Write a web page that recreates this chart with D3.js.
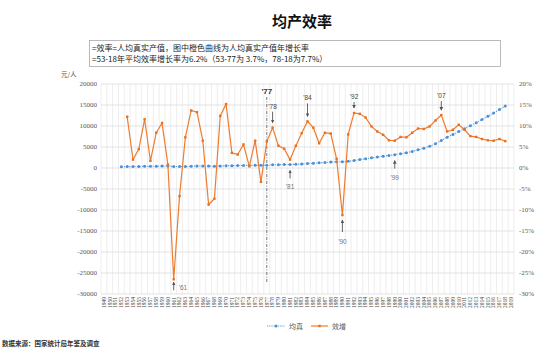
<!DOCTYPE html>
<html>
<head>
<meta charset="utf-8">
<script src="https://cdnjs.cloudflare.com/ajax/libs/d3/7.8.5/d3.min.js"></script>
<style>
body{margin:0;background:#fff;}
svg{display:block;}
</style>
</head>
<body>
<svg width="550" height="351"></svg>
<script>
// categories on the x axis
var years = [1949,1950,1951,1952,1953,1954,1955,1956,1957,1958,1959,1960,1961,1962,1963,1964,1965,1966,1967,1968,1969,
	1970,1971,1972,1973,1974,1975,1976,1977,1978,1979,1980,1981,1982,1983,1984,1985,1986,1987,1988,1989,
	1990,1991,1992,1993,1994,1995,1996,1997,1998,1999,2000,2001,2002,2003,2004,2005,2006,2007,2008,2009,
	2010,2011,2012,2013,2014,2015,2016,2017,2018,2019];

// 均真: per-capita real output (yuan/person), 1952-2018
var perCapitaStart = 1952;
var perCapita = [300,330,340,355,395,400,435,480,485,360,
	335,360,410,465,495,450,420,470,545,565,
	585,615,620,660,640,680,745,785,820,840,
	885,955,1060,1160,1230,1330,1440,1470,1480,1600,
	1790,2000,2210,2420,2620,2820,3000,3180,3400,3640,
	3950,4320,4720,5200,5800,6550,7300,8000,8700,9350,
	10050,10800,11540,12300,13100,13900,14750];

// 效增: yearly growth of efficiency (%), 1953-2018
var growthStart = 1953;
var growth = [12.2,2.0,4.5,11.6,1.7,8.4,10.7,0.8,-26.5,-6.7,
	7.3,13.7,13.3,6.5,-8.7,-7.3,12.4,15.2,3.6,3.2,
	5.6,0.4,6.5,-3.3,6.3,9.6,5.3,4.6,2.0,5.3,
	8.3,11.1,9.6,5.9,8.4,8.2,2.2,-11.2,8.0,13.1,
	12.9,12.0,9.9,8.7,7.9,6.6,6.5,7.4,7.3,8.4,
	9.4,9.3,9.9,11.3,12.6,8.7,9.1,10.3,9.1,7.6,
	7.4,6.9,6.6,6.5,6.9,6.4];

var leftTicks = [20000,15000,10000,5000,0,-5000,-10000,-15000,-20000,-25000,-30000];
var rightTicks = [20,15,10,5,0,-5,-10,-15,-20,-25,-30];

// year markers on the orange line (top) and blue line (bottom)
var topNotes = [{year:1978, text:"'78", len:11}, {year:1984, text:"'84", len:13}, {year:1992, text:"'92", len:6}, {year:2007, text:"'07", len:9}];
var bottomNotes = [{year:1981, text:"'81"}, {year:1999, text:"'99"}];
var dipNotes = [{year:1961, text:"'61"}, {year:1990, text:"'90"}];

var svg = d3.select('svg');
var cjk = '"Noto Sans CJK SC", sans-serif';
var serif = '"Liberation Serif", "DejaVu Serif", serif';
var sans = '"Liberation Sans", sans-serif';

var plotL = 101, plotR = 514, plotT = 84, plotB = 294;

var x = d3.scaleBand().domain(years).range([plotL, plotR]);
var cx = function(yr){ return x(yr) + x.bandwidth() / 2 };
var yL = d3.scaleLinear().domain([-30000, 20000]).range([plotB, plotT]);
var yR = d3.scaleLinear().domain([-30, 20]).range([plotB, plotT]);

var blueData = perCapita.map(function(v, i){ return {year: perCapitaStart + i, v: v} });
var orangeData = growth.map(function(v, i){ return {year: growthStart + i, v: v} });
var findBlue = function(yr){ return blueData.filter(function(d){ return d.year == yr })[0] };
var findOrange = function(yr){ return orangeData.filter(function(d){ return d.year == yr })[0] };

svg.append('rect').attr('width', 550).attr('height', 351).attr('fill', '#fff');

// title
svg.append('text')
	.attr('x', 302).attr('y', 27)
	.attr('text-anchor', 'middle')
	.style('font-family', cjk).style('font-weight', 'bold').style('font-size', '15px')
	.attr('fill', '#111')
	.text('均产效率');

// note box
svg.append('rect')
	.attr('x', 89.5).attr('y', 40.5).attr('width', 411).attr('height', 26)
	.attr('fill', '#fff').attr('stroke', '#aaa').attr('stroke-width', 0.8);
svg.append('text')
	.attr('x', 92).attr('y', 51)
	.style('font-family', cjk).style('font-size', '8px').attr('fill', '#222')
	.text('=效率=人均真实产值，图中橙色曲线为人均真实产值年增长率');
svg.append('text')
	.attr('x', 92).attr('y', 62)
	.style('font-family', cjk).style('font-size', '8px').attr('fill', '#222')
	.text('=53-18年平均效率增长率为6.2%（53-77为 3.7%，78-18为7.7%）');

svg.append('text')
	.attr('x', 61).attr('y', 77)
	.style('font-family', cjk).style('font-size', '6.5px').attr('fill', '#555')
	.text('元/人');

// gridlines
svg.append('g').selectAll('line')
	.data(years.concat(['end']))
	.enter()
	.append('line')
		.attr('x1', function(d){ return d == 'end' ? plotR : x(d) })
		.attr('x2', function(d){ return d == 'end' ? plotR : x(d) })
		.attr('y1', plotT).attr('y2', plotB)
		.attr('stroke', '#e6e6e6').attr('stroke-width', 0.7);

svg.append('g').selectAll('line')
	.data(leftTicks)
	.enter()
	.append('line')
		.attr('x1', plotL).attr('x2', plotR)
		.attr('y1', function(d){ return yL(d) })
		.attr('y2', function(d){ return yL(d) })
		.attr('stroke', '#dcdcdc').attr('stroke-width', 0.8);

// axis labels
svg.append('g').selectAll('text')
	.data(leftTicks)
	.enter()
	.append('text')
		.attr('x', 97).attr('y', function(d){ return yL(d) + 2.3 })
		.attr('text-anchor', 'end')
		.style('font-family', serif).style('font-size', '7px').attr('fill', '#595959')
		.text(function(d){ return d });

svg.append('g').selectAll('text')
	.data(rightTicks)
	.enter()
	.append('text')
		.attr('x', 519).attr('y', function(d){ return yR(d) + 2.3 })
		.style('font-family', serif).style('font-size', '7px').attr('fill', '#595959')
		.text(function(d){ return d + '%' });

svg.append('g').selectAll('text')
	.data(years)
	.enter()
	.append('text')
		.attr('transform', function(d){ return 'translate(' + (cx(d) + 1.8) + ',297) rotate(-90)' })
		.attr('text-anchor', 'end')
		.style('font-family', serif).style('font-size', '5.5px').attr('fill', '#444')
		.text(function(d){ return d });

// '77 divider
svg.append('line')
	.attr('x1', cx(1977)).attr('x2', cx(1977))
	.attr('y1', 97).attr('y2', 283)
	.attr('stroke', '#666').attr('stroke-width', 0.9)
	.attr('stroke-dasharray', '3,1.5,1,1.5');
svg.append('text')
	.attr('x', cx(1977)).attr('y', 94)
	.attr('text-anchor', 'middle')
	.style('font-family', sans).style('font-weight', 'bold').style('font-size', '8px')
	.attr('fill', '#333')
	.text("'77");

// blue series
var blueLine = d3.line()
	.x(function(d){ return cx(d.year) })
	.y(function(d){ return yL(d.v) });

svg.append('path')
	.datum(blueData)
	.attr('d', blueLine)
	.attr('fill', 'none').attr('stroke', '#5B9BD5').attr('stroke-width', 1.1)
	.attr('stroke-dasharray', '1.2,1.4');

svg.append('g').selectAll('circle')
	.data(blueData)
	.enter()
	.append('circle')
		.attr('cx', function(d){ return cx(d.year) })
		.attr('cy', function(d){ return yL(d.v) })
		.attr('r', 1.5)
		.attr('fill', '#4A90D9');

// orange series
var orangeLine = d3.line()
	.x(function(d){ return cx(d.year) })
	.y(function(d){ return yR(d.v) });

svg.append('path')
	.datum(orangeData)
	.attr('d', orangeLine)
	.attr('fill', 'none').attr('stroke', '#ED7D31').attr('stroke-width', 1.2);

svg.append('g').selectAll('rect')
	.data(orangeData)
	.enter()
	.append('rect')
		.attr('x', function(d){ return cx(d.year) - 1.2 })
		.attr('y', function(d){ return yR(d.v) - 1.2 })
		.attr('width', 2.4).attr('height', 2.4)
		.attr('fill', '#E8701F');

// arrows
svg.append('defs').append('marker')
	.attr('id', 'head')
	.attr('viewBox', '0 0 6 6')
	.attr('refX', 5).attr('refY', 3)
	.attr('markerWidth', 4).attr('markerHeight', 4)
	.attr('orient', 'auto')
	.append('path').attr('d', 'M0,0L6,3L0,6Z').attr('fill', '#555');

function arrow(x0, y0, y1){
	svg.append('line')
		.attr('x1', x0).attr('x2', x0)
		.attr('y1', y0).attr('y2', y1)
		.attr('stroke', '#555').attr('stroke-width', 0.9)
		.attr('marker-end', 'url(#head)');
}

topNotes.forEach(function(n){
	var tip = yR(findOrange(n.year).v) - 5;
	arrow(cx(n.year), tip - n.len, tip);
	svg.append('text')
		.attr('x', cx(n.year)).attr('y', tip - n.len - 3)
		.attr('text-anchor', 'middle')
		.style('font-family', sans).style('font-size', '6.5px')
		.attr('fill', '#444')
		.text(n.text);
});

bottomNotes.forEach(function(n){
	var tip = yL(findBlue(n.year).v) + 6;
	arrow(cx(n.year), tip + 8, tip);
	svg.append('text')
		.attr('x', cx(n.year)).attr('y', tip + 19)
		.attr('text-anchor', 'middle')
		.style('font-family', sans).style('font-size', '6.5px')
		.attr('fill', '#777')
		.text(n.text);
});

// '61 label sits beside its arrow, '90 below
var p61 = yR(findOrange(1961).v);
arrow(cx(1961), p61 + 11, p61 + 3);
svg.append('text')
	.attr('x', cx(1961) + 5).attr('y', p61 + 11)
	.style('font-family', sans).style('font-size', '6.5px')
	.attr('fill', '#777')
	.text(dipNotes[0].text);

var p90 = yR(findOrange(1990).v);
arrow(cx(1990), p90 + 17, p90 + 5);
svg.append('text')
	.attr('x', cx(1990)).attr('y', p90 + 29)
	.attr('text-anchor', 'middle')
	.style('font-family', sans).style('font-size', '6.5px')
	.attr('fill', '#777')
	.text(dipNotes[1].text);

// legend
var lg = svg.append('g');
lg.append('line')
	.attr('x1', 267).attr('x2', 285).attr('y1', 326).attr('y2', 326)
	.attr('stroke', '#5B9BD5').attr('stroke-width', 1).attr('stroke-dasharray', '1.2,1');
lg.append('circle').attr('cx', 276).attr('cy', 326).attr('r', 1.5).attr('fill', '#4A90D9');
lg.append('text')
	.attr('x', 289).attr('y', 328.5)
	.style('font-family', cjk).style('font-size', '7px').attr('fill', '#595959')
	.text('均真');
lg.append('line')
	.attr('x1', 311).attr('x2', 328).attr('y1', 326).attr('y2', 326)
	.attr('stroke', '#ED7D31').attr('stroke-width', 1.2);
lg.append('rect').attr('x', 318.3).attr('y', 324.8).attr('width', 2.4).attr('height', 2.4).attr('fill', '#E8701F');
lg.append('text')
	.attr('x', 332).attr('y', 328.5)
	.style('font-family', cjk).style('font-size', '7px').attr('fill', '#595959')
	.text('效增');

// source
svg.append('text')
	.attr('x', 2).attr('y', 346)
	.style('font-family', cjk).style('font-weight', 'bold').style('font-size', '6.5px')
	.attr('fill', '#333')
	.text('数据来源：国家统计局年鉴及调查');
</script>
</body>
</html>
